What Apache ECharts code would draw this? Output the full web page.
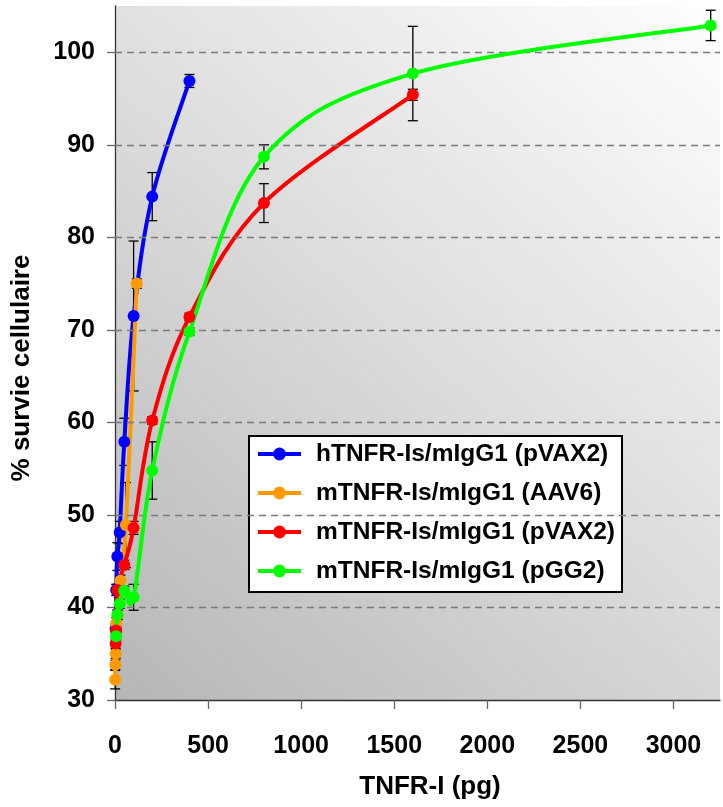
<!DOCTYPE html>
<html>
<head>
<meta charset="utf-8">
<script src="https://cdn.jsdelivr.net/npm/echarts@6/dist/echarts.min.js"></script>
<style>
html,body{margin:0;padding:0;background:#fff;}
#chart{width:723px;height:807px;}
</style>
</head>
<body>
<div id="chart"></div>
<script>
// ---- data ----
var seriesNames = ['hTNFR-Is/mIgG1 (pVAX2)', 'mTNFR-Is/mIgG1 (AAV6)', 'mTNFR-Is/mIgG1 (pVAX2)', 'mTNFR-Is/mIgG1 (pGG2)'];

var doseBlue = [3.125, 6.25, 12.5, 25, 50, 100, 200, 400];
var survBlue = [37.7, 41.9, 45.5, 48.1, 57.9, 71.5, 84.4, 96.9];
var errBlue  = [0.5, 0.6, 1.5, 1.2, 2.55, 8.1, 2.6, 0.7];

var doseOrange = [0.9, 1.8, 3.7, 7.3, 14.6, 29.3, 58.6, 117];
var survOrange = [32.2, 33.8, 35.0, 38.3, 39.2, 42.9, 48.9, 75.0];
var errOrange  = [1.0, 0.5, 0.5, 0.6, 0.5, 0.6, 4.6, 0.5];

var doseRed = [3.125, 6.25, 12.5, 50, 100, 200, 400, 800, 1600];
var survRed = [36.1, 37.5, 41.9, 44.6, 48.6, 60.2, 71.4, 83.7, 95.4];
var errRed  = [0.5, 0.5, 0.6, 0.5, 0.7, 0.4, 0.4, 2.1, 0.6];

var doseGreen = [6.25, 12.5, 25, 50, 100, 200, 400, 800, 1600, 3200];
var survGreen = [36.9, 39.2, 40.4, 41.8, 41.1, 54.8, 69.8, 88.7, 97.7, 102.9];
var errGreen  = [0.4, 0.5, 0.5, 0.5, 1.4, 3.1, 0.4, 1.3, 5.1, 1.64];

var xTicks = [0, 500, 1000, 1500, 2000, 2500, 3000];
var yTicks = [30, 40, 50, 60, 70, 80, 90, 100];
var gridValues = [40, 50, 60, 70, 80, 90, 100];

// ---- build ----
var colors = ['#0000ff', '#ff9900', '#ff0000', '#00ff00'];
var doses = [doseBlue, doseOrange, doseRed, doseGreen];
var survs = [survBlue, survOrange, survRed, survGreen];
var errs  = [errBlue, errOrange, errRed, errGreen];

function zip(a, b) { return a.map(function (v, i) { return [v, b[i]]; }); }
function zip3(a, b, c) { return a.map(function (v, i) { return [v, b[i], c[i]]; }); }

var FONT = '"Liberation Sans", Arial, sans-serif';
var series = [];

// error bars (drawn beneath lines)
for (var s = 0; s < 4; s++) {
  series.push({
    type: 'custom',
    name: 'err' + s,
    silent: true,
    z: 1,
    clip: false,
    data: zip3(doses[s], survs[s], errs[s]),
    renderItem: function (params, api) {
      var x = api.value(0), y = api.value(1), e = api.value(2);
      var top = api.coord([x, y + e]);
      var bot = api.coord([x, y - e]);
      var cw = 5;
      var st = { stroke: '#000', lineWidth: 1.3 };
      return {
        type: 'group',
        children: [
          { type: 'line', shape: { x1: top[0], y1: top[1], x2: bot[0], y2: bot[1] }, style: st },
          { type: 'line', shape: { x1: top[0] - cw, y1: top[1], x2: top[0] + cw, y2: top[1] }, style: st },
          { type: 'line', shape: { x1: bot[0] - cw, y1: bot[1], x2: bot[0] + cw, y2: bot[1] }, style: st }
        ]
      };
    }
  });
}

// smoothed curves (Catmull-Rom style, like spreadsheet smoothing), computed through the axes
function makeCurveRenderer(k) {
  return function (params, api) {
    if (params.dataIndex !== 0) return null;
    var pts = doses[k].map(function (d, i) { return api.coord([d, survs[k][i]]); });
    var children = [];
    var n = pts.length;
    for (var i = 0; i < n - 1; i++) {
      var p0 = pts[Math.max(i - 1, 0)], p1 = pts[i], p2 = pts[i + 1], p3 = pts[Math.min(i + 2, n - 1)];
      var t = 1 / 6;
      children.push({
        type: 'bezierCurve',
        shape: {
          x1: p1[0], y1: p1[1], x2: p2[0], y2: p2[1],
          cpx1: p1[0] + (p2[0] - p0[0]) * t, cpy1: p1[1] + (p2[1] - p0[1]) * t,
          cpx2: p2[0] - (p3[0] - p1[0]) * t, cpy2: p2[1] - (p3[1] - p1[1]) * t
        },
        style: { stroke: colors[k], lineWidth: 4, fill: null, lineCap: 'round', lineJoin: 'round' }
      });
    }
    return { type: 'group', children: children };
  };
}

for (var c = 0; c < 4; c++) {
  series.push({
    type: 'custom',
    name: 'curve' + c,
    silent: true,
    z: 2 + c,
    clip: false,
    data: zip(doses[c], survs[c]),
    renderItem: makeCurveRenderer(c)
  });
}

for (var k = 0; k < 4; k++) {
  series.push({
    type: 'line',
    name: seriesNames[k],
    data: zip(doses[k], survs[k]),
    symbol: 'circle',
    symbolSize: 12,
    z: 3 + k,
    clip: false,
    color: colors[k],
    lineStyle: { width: 4, color: colors[k], opacity: 0 },
    itemStyle: { color: colors[k] },
    emphasis: { disabled: true }
  });
}

// gridlines via markLine
series.push({
  type: 'line',
  name: 'grid',
  data: [],
  silent: true,
  z: 0,
  markLine: {
    silent: true,
    symbol: 'none',
    label: { show: false },
    lineStyle: { type: [7, 5], color: '#7a7a7a', width: 1.3 },
    data: gridValues.map(function (v) { return { yAxis: v }; })
  }
});

var chart = echarts.init(document.getElementById('chart'), null, { renderer: 'canvas' });
chart.setOption({
  animation: false,
  backgroundColor: '#ffffff',
  textStyle: { fontFamily: FONT },
  grid: {
    left: 115, right: 3, top: 6, bottom: 107,
    show: true, borderWidth: 0,
    backgroundColor: {
      type: 'linear', x: 0, y: 1, x2: 1, y2: 0,
      colorStops: [
        { offset: 0, color: '#b6b6b6' },
        { offset: 0.5, color: '#dcdcdc' },
        { offset: 1, color: '#ffffff' }
      ]
    }
  },
  legend: {
    data: seriesNames,
    orient: 'vertical',
    left: 249, top: 436,
    padding: [5, 7, 8, 7],
    backgroundColor: '#ffffff',
    borderColor: '#000000',
    borderWidth: 2,
    itemWidth: 43,
    itemHeight: 16,
    itemGap: 13,
    selectedMode: false,
    lineStyle: { width: 4, opacity: 1 },
    textStyle: { fontFamily: FONT, fontSize: 24.5, fontWeight: 'bold', color: '#000', lineHeight: 26, padding: [0, 0, 0, 10] }
  },
  xAxis: {
    type: 'value',
    min: 0, max: 3250,
    interval: 500,
    name: 'TNFR-I (pg)',
    nameLocation: 'middle',
    nameGap: 74,
    nameTextStyle: { fontFamily: FONT, fontSize: 26, fontWeight: 'bold', color: '#000', padding: [0, 0, 0, 25] },
    axisLine: { show: true, onZero: false, lineStyle: { color: '#333', width: 1.3 } },
    axisTick: { show: true, length: 9, customValues: xTicks, lineStyle: { color: '#666', width: 1.3 } },
    axisLabel: { customValues: xTicks, margin: 34, fontFamily: FONT, fontSize: 25, fontWeight: 'bold', color: '#000',
      formatter: function (v) { return String(v); } },
    splitLine: { show: false }
  },
  yAxis: {
    type: 'value',
    min: 30, max: 105,
    interval: 10,
    name: '% survie cellulaire',
    nameLocation: 'middle',
    nameGap: 80,
    nameRotate: 90,
    nameTextStyle: { fontFamily: FONT, fontSize: 26, fontWeight: 'bold', color: '#000', padding: [0, 0, 0, -30] },
    axisLine: { show: true, onZero: false, lineStyle: { color: '#333', width: 1.3 } },
    axisTick: { show: true, length: 8, customValues: yTicks, lineStyle: { color: '#666', width: 1.3 } },
    axisLabel: { customValues: yTicks, margin: 20, fontFamily: FONT, fontSize: 25, fontWeight: 'bold', color: '#000',
      formatter: function (v) { return String(v); } },
    splitLine: { show: false }
  },
  series: series
});
</script>
</body>
</html>
